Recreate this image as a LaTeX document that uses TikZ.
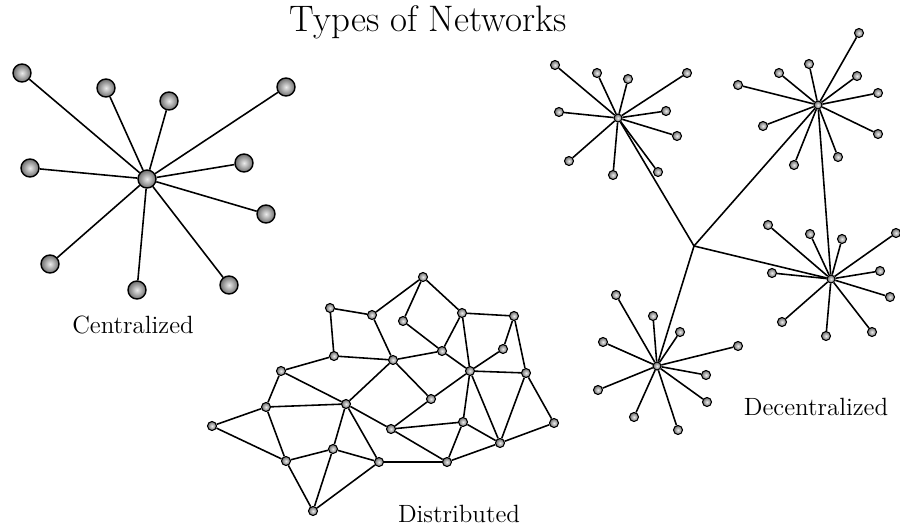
\documentclass[tikz,border=0pt]{standalone}
\usepackage{tikz}
\usetikzlibrary{positioning,shadings}
\definecolor{nwlight}{RGB}{235,235,235}
\definecolor{nwdark}{RGB}{110,110,110}
\tikzstyle{bignode} = [circle, draw=black, line width=0.8pt, shading=radial, inner color=nwlight, outer color=nwdark, inner sep=0pt, minimum size=0.36cm]
\tikzstyle{smallnode} = [circle, draw=black, line width=0.6pt, shading=radial, inner color=nwlight, outer color=nwdark, inner sep=0pt, minimum size=0.18cm]
\tikzstyle{hubnode} = [smallnode, minimum size=0.16cm]
\tikzstyle{link} = [line width=0.9pt, color=black]
\tikzstyle{caption} = [anchor=base, inner sep=0pt, font=\fontsize{14.2}{16}\selectfont]

\begin{document}
\begin{tikzpicture}[x=0.02cm, y=-0.02cm]
\useasboundingbox (0,0) rectangle (900,527);

% Title
\node[caption, font=\fontsize{21}{24}\selectfont] (title) at (428,32) {Types of Networks};

% Centralized network
\node[bignode] (c0) at (147,179) {};
\foreach \i/\x/\y in {1/22/73, 2/106/88, 3/169/101, 4/286/87, 5/30/168,
                      6/244/163, 7/266/214, 8/50/264, 9/137/290, 10/229/285} {
  \node[bignode] (c\i) at (\x,\y) {};
  \draw[link] (c0) -- (c\i);
}
\node[caption] (ctext) at (133,333) {Centralized};

% Decentralized network
\coordinate (dhub) at (694,246);
\node[hubnode] (ha) at (618,118) {};
\node[hubnode] (hb) at (818,105) {};
\node[hubnode] (hc) at (831,279) {};
\node[hubnode] (hd) at (657,366) {};
\foreach \h in {ha,hb,hc,hd}
  \draw[link] (dhub) -- (\h);
\draw[link] (hb) -- (hc);
\foreach \i/\x/\y in {1/555/65, 2/597/73, 3/628/79, 4/687/73, 5/559/112,
                      6/666/111, 7/677/136, 8/569/161, 9/613/175, 10/658/172} {
  \node[smallnode] (a\i) at (\x,\y) {};
  \draw[link] (ha) -- (a\i);
}
\foreach \i/\x/\y in {1/859/33, 2/809/64, 3/779/73, 4/857/76, 5/738/85,
                      6/878/93, 7/763/126, 8/878/134, 9/794/165, 10/838/157} {
  \node[smallnode] (b\i) at (\x,\y) {};
  \draw[link] (hb) -- (b\i);
}
\foreach \i/\x/\y in {1/768/225, 2/810/234, 3/842/239, 4/896/233, 5/772/273,
                      6/880/271, 7/890/297, 8/782/322, 9/826/336, 10/872/332} {
  \node[smallnode] (e\i) at (\x,\y) {};
  \draw[link] (hc) -- (e\i);
}
\foreach \i/\x/\y in {1/616/295, 2/653/316, 3/680/332, 4/603/342, 5/738/346,
                      6/706/375, 7/598/390, 8/707/402, 9/634/417, 10/678/430} {
  \node[smallnode] (f\i) at (\x,\y) {};
  \draw[link] (hd) -- (f\i);
}
\node[caption] (dtext) at (816,415) {Decentralized};

% Distributed network
\foreach \i/\x/\y in {1/330/308, 2/372/315, 3/334/356, 4/281/371, 5/266/407,
                      6/346/404, 7/212/426, 8/333/449, 9/286/461, 10/313/511,
                      11/379/462, 12/423/277, 13/403/321, 14/462/313, 15/514/316,
                      16/442/351, 17/393/360, 18/503/349, 19/470/371, 20/526/373,
                      21/431/399, 22/391/429, 23/463/422, 24/500/443, 25/554/423,
                      26/447/462}
  \node[smallnode] (d\i) at (\x,\y) {};
\foreach \u/\v in {1/2, 1/3, 3/4, 3/17, 4/5, 4/6, 5/6, 5/7, 5/9, 7/9,
                   6/17, 6/8, 6/11, 6/22, 9/8, 9/10, 8/10, 8/11, 10/11, 2/17,
                   12/2, 12/13, 12/14, 13/16, 14/16, 14/15, 14/19, 15/18, 15/20,
                   18/19, 19/20, 16/19, 17/16, 17/21, 21/19, 21/22, 22/23, 22/26,
                   19/23, 19/24, 20/24, 20/25, 25/24, 23/24, 23/26, 26/24, 11/26}
  \draw[link] (d\u) -- (d\v);
\node[caption] (stext) at (459,522) {Distributed};
\end{tikzpicture}
\end{document}
